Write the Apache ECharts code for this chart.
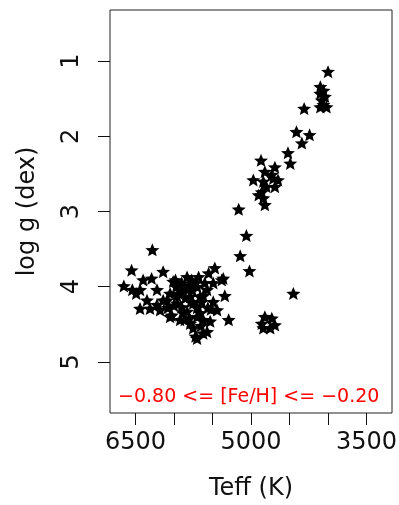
<!DOCTYPE html>
<html>
<head>
<meta charset="utf-8">
<script src="https://cdn.jsdelivr.net/npm/echarts@6/dist/echarts.min.js"></script>
<style>html,body{margin:0;padding:0;background:#fff}#c{width:399px;height:505px}</style>
</head>
<body>
<div id="c"></div>
<script>
// Effective temperature (K) and surface gravity (dex)
var teff = [
  4000,4100,4060,4100,4040,4080,4060,4020,4100,4310,
  4410,4240,4340,4520,4490,4870,4690,4820,4970,4710,
  4650,4840,4800,4860,4690,4840,4820,4900,4730,5160,
  5060,5140,5020,4450,4820,4730,4860,4690,4840,4750,
  6280,6550,6140,5470,5360,6650,5290,5440,5720,5570,
  6540,6490,6440,6350,6290,6220,6090,6010,6180,6030,
  5900,5830,5770,5700,5660,5750,5660,5700,5530,5490,
  5380,5490,5570,5920,5860,5620,6440,6400,6310,6050,
  5960,5790,5830,5920,5620,5750,5550,5680,5900,6140,
  6220,5760,5620,5810,5970,6080,5520,5340,
  5980,5830,5790,6050,5850,5900,5780,5700,5640,5960,
  5880,5800,5700,5650,6000,5560,5600,5720
];
var logg = [
  1.14,1.34,1.39,1.43,1.47,1.52,1.58,1.61,1.61,1.63,
  1.94,1.98,2.09,2.22,2.36,2.32,2.41,2.47,2.58,2.56,
  2.58,2.60,2.67,2.74,2.67,2.82,2.91,2.78,2.51,2.97,
  3.32,3.59,3.79,4.09,4.40,4.42,4.49,4.51,4.55,4.55,
  3.51,3.78,3.80,3.75,3.89,3.99,4.44,4.31,4.66,4.60,
  4.04,4.09,4.29,4.18,3.89,4.04,4.18,3.93,4.31,4.38,
  4.27,4.04,3.91,4.00,4.13,4.22,4.35,4.69,4.46,4.20,
  3.91,3.95,4.04,4.09,4.44,4.44,4.04,3.91,4.29,4.09,
  4.22,4.13,4.33,4.44,4.62,4.55,3.82,3.87,3.95,4.18,
  4.24,4.05,4.12,3.98,4.00,4.28,4.30,4.12,
  3.91,3.87,4.49,4.40,4.15,4.05,4.20,4.28,4.20,4.12,
  4.35,4.42,4.40,4.52,4.25,4.28,3.95,3.95
];
var xTicks = [3500,4000,4500,5000,5500,6000,6500];
var xLabels = [3500,5000,6500];
var yTicks = [1,2,3,4,5];
var annotation = '\u22120.80 <= [Fe/H] <= \u22120.20';

var pts = teff.map(function(t,i){return [t, logg[i]];});
var starPath = 'path://M50,0 L63.2,31.8 L97.6,34.5 L71.4,57 L79.4,90.5 L50,72.5 L20.6,90.5 L28.6,57 L2.4,34.5 L36.8,31.8 Z';
var font = 'DejaVu Sans';
var plain = function(v){return String(v);};

var chart = echarts.init(document.getElementById('c'), null, {renderer:'canvas'});
chart.setOption({
  backgroundColor:'#fff',
  animation:false,
  grid:{left:110, top:10, width:282, height:403, containLabel:false, outerBoundsMode:'none',
        show:true, borderColor:'#222', borderWidth:1, backgroundColor:'transparent'},
  xAxis:{
    type:'value', inverse:true, min:3170, max:6830,
    name:'Teff (K)', nameLocation:'middle', nameGap:64,
    nameTextStyle:{fontFamily:font, fontSize:24, color:'#111'},
    axisLine:{show:false},
    axisTick:{show:true, inside:false, length:12, customValues:xTicks, lineStyle:{color:'#111', width:1}},
    axisLabel:{customValues:xLabels, formatter:plain, margin:18, fontFamily:font, fontSize:24, color:'#111'},
    splitLine:{show:false}
  },
  yAxis:{
    type:'value', inverse:true, min:0.32, max:5.68,
    name:'log g (dex)', nameLocation:'middle', nameGap:70, nameRotate:90,
    nameTextStyle:{fontFamily:font, fontSize:24, color:'#111'},
    axisLine:{show:false},
    axisTick:{show:true, inside:false, length:12, customValues:yTicks, lineStyle:{color:'#111', width:1}},
    axisLabel:{customValues:yTicks, formatter:plain, rotate:90, margin:26, fontFamily:font, fontSize:24, color:'#111'},
    splitLine:{show:false}
  },
  series:[{
    type:'scatter',
    data:pts,
    symbol:starPath,
    symbolSize:[14,13],
    itemStyle:{color:'#000', opacity:1}
  }],
  graphic:[{
    type:'text', left:118, top:388,
    style:{text:annotation, fill:'#ff0000', font:'19px "DejaVu Sans"'}
  }]
});
</script>
</body>
</html>
